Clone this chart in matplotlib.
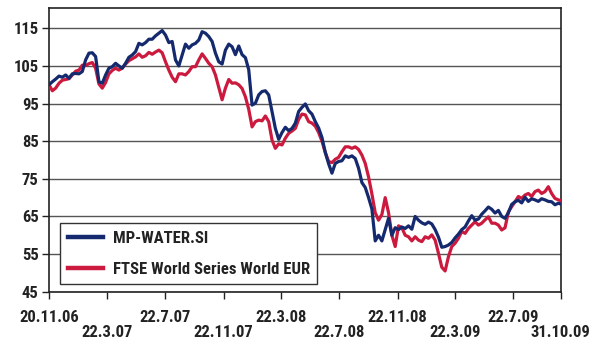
import matplotlib
matplotlib.use("Agg")
import matplotlib.pyplot as plt
from matplotlib import font_manager as fm
import pandas as pd

# Weekly closes, rebased to 100 on 20.11.2006
week_start = "2006-11-20"
n_weeks = 154
last_day = "2009-10-31"

mp_water = [
    100.0, 100.8, 101.5, 102.3, 102.0, 102.6, 101.7, 102.9, 103.0, 102.9,
    103.5, 106.6, 108.4, 108.5, 107.5, 100.8, 100.4, 102.6, 104.4, 104.8,
    105.7, 105.0, 104.4, 105.7, 107.3, 107.9, 108.8, 111.0, 110.6, 111.2,
    112.1, 112.1, 113.0, 113.7, 114.4, 113.2, 111.2, 111.5, 106.6, 105.0,
    107.9, 110.8, 109.7, 110.6, 111.0, 111.9, 114.1, 113.7, 112.8, 111.5,
    108.4, 106.1, 105.5, 109.2, 110.8, 110.1, 108.0, 110.3, 108.0, 107.2,
    104.0, 94.6, 95.1, 97.3, 98.2, 98.4, 97.3, 92.9, 88.4, 85.5,
    87.3, 88.7, 87.8, 88.4, 89.8, 92.9, 94.0, 94.9, 93.1, 92.2,
    90.2, 88.5, 86.0, 82.0, 79.0, 76.5, 79.1, 79.6, 79.8, 81.1,
    80.7, 81.1, 80.4, 77.8, 74.0, 72.7, 70.0, 67.0, 58.5, 60.0,
    58.5, 61.5, 64.5, 60.0, 62.0, 61.5, 62.2, 61.8, 62.5, 61.6,
    65.0, 64.0, 63.3, 62.9, 63.5, 63.0, 61.5, 59.5, 56.8, 57.0,
    57.4, 58.1, 59.3, 60.3, 61.5, 62.2, 63.8, 65.2, 64.0, 64.3,
    65.6, 66.5, 67.5, 66.9, 65.9, 66.6, 65.0, 64.5, 66.0, 68.2,
    68.9, 69.3, 68.6, 70.1, 69.0, 69.7, 69.4, 69.0, 69.7, 69.4,
    69.0, 68.9, 68.1, 68.5, 68.3,
]

ftse_world = [
    100.0, 98.4, 99.1, 100.4, 101.2, 101.4, 101.6, 102.6, 103.6, 103.9,
    105.2, 105.1, 105.6, 105.9, 104.4, 100.2, 99.1, 100.6, 102.9, 103.8,
    104.4, 103.9, 104.4, 105.5, 106.4, 106.9, 107.4, 108.2, 107.3, 107.7,
    108.6, 108.1, 108.7, 109.2, 108.5, 106.1, 103.9, 102.0, 100.8, 102.9,
    102.9, 102.6, 103.5, 104.8, 104.8, 106.6, 108.2, 107.0, 105.7, 104.8,
    102.6, 99.3, 96.0, 99.1, 101.4, 100.4, 100.5, 100.0, 99.0, 96.8,
    93.5, 88.8, 90.2, 90.6, 90.4, 91.7, 90.2, 85.3, 83.1, 84.3,
    84.0, 85.8, 87.1, 87.7, 88.4, 90.8, 92.2, 92.0, 90.2, 89.8,
    89.0, 87.3, 85.0, 82.0, 79.6, 79.3, 80.2, 80.7, 82.2, 83.5,
    83.5, 83.1, 83.5, 82.8, 81.3, 79.1, 75.5, 71.0, 66.0, 64.0,
    65.5, 70.0, 66.0, 60.0, 57.0, 62.5, 62.0, 60.0, 59.6, 58.5,
    59.6, 58.7, 58.3, 59.6, 59.2, 60.1, 58.7, 55.2, 51.5, 50.5,
    54.3, 57.0, 57.9, 59.2, 61.0, 60.5, 61.8, 62.7, 63.6, 62.7,
    63.2, 64.1, 64.9, 63.2, 63.2, 62.7, 61.4, 62.0, 66.2, 67.6,
    68.9, 70.3, 69.8, 70.7, 71.1, 70.3, 71.6, 72.0, 71.1, 71.6,
    72.9, 71.1, 69.8, 69.4, 69.2,
]

series_names = ["MP-WATER.SI", "FTSE World Series World EUR"]
tick_dates = ["2006-11-20", "2007-03-22", "2007-07-22", "2007-11-22", "2008-03-22",
              "2008-07-22", "2008-11-22", "2009-03-22", "2009-07-22", "2009-10-31"]
tick_labels = ["20.11.06", "22.3.07", "22.7.07", "22.11.07", "22.3.08",
               "22.7.08", "22.11.08", "22.3.09", "22.7.09", "31.10.09"]
y_ticks = [45, 55, 65, 75, 85, 95, 105, 115]

dates = pd.date_range(week_start, periods=n_weeks, freq="7D").append(
    pd.DatetimeIndex([last_day]))


def pick_condensed_font():
    """Return (family, stretch, weight) of a bold condensed sans face if one exists."""
    preferred = ["Liberation Sans Narrow", "Roboto Condensed", "Noto Sans",
                 "Noto Sans Condensed", "Open Sans", "Open Sans Condensed",
                 "DejaVu Sans", "DejaVu Sans Condensed", "Roboto", "Inter", "Lato"]
    entries = fm.fontManager.ttflist
    for fam in preferred:
        for stretch in ("condensed", "semi-condensed", "extra-condensed"):
            for weight in (700, 600, "bold", "semibold", "demibold"):
                for f in entries:
                    if (f.name == fam and f.stretch == stretch and f.style == "normal"
                            and f.weight == weight):
                        return f.name, stretch, weight
    for f in entries:
        if "narrow" in f.name.lower() or "condensed" in f.name.lower():
            return f.name, "normal", "bold"
    return None


choice = pick_condensed_font()
if choice is not None:
    fam, stretch, weight = choice
    plt.rcParams["font.family"] = [fam, "DejaVu Sans"]
    plt.rcParams["font.stretch"] = stretch
    plt.rcParams["font.weight"] = weight
    base_size = 12
else:
    plt.rcParams["font.family"] = ["Liberation Sans", "DejaVu Sans"]
    plt.rcParams["font.weight"] = "bold"
    base_size = 10.5

BLUE = "#152a6e"
RED = "#cc1a3f"
TEXT = "#222222"

fig = plt.figure(figsize=(5.94, 3.40), dpi=100)
ax = fig.add_axes([0.0825, 0.1421, 0.8614, 0.8344])

for y in y_ticks:
    ax.axhline(y, color="#555555", lw=1.0, zorder=1)

ax.plot(dates, ftse_world, color=RED, lw=2.3, zorder=3, label=series_names[1],
        solid_joinstyle="round")
ax.plot(dates, mp_water, color=BLUE, lw=2.3, zorder=4, label=series_names[0],
        solid_joinstyle="round")

ax.set_xlim(pd.Timestamp(week_start), pd.Timestamp(last_day))
ax.set_ylim(45, 120.4)

ax.set_yticks(y_ticks)
ax.set_yticklabels([str(v) for v in y_ticks])
ax.set_xticks(pd.to_datetime(tick_dates))
ax.set_xticklabels(tick_labels)

ax.tick_params(axis="both", direction="out", length=5, width=1.0,
               color="#222222", labelsize=base_size, labelcolor=TEXT)
ax.tick_params(axis="y", pad=2.5)
for i, t in enumerate(ax.xaxis.get_major_ticks()):
    t.set_pad(8.0 if i % 2 == 0 else 19.0)

for side in ["left", "bottom", "top", "right"]:
    ax.spines[side].set_color("#222222")
    ax.spines[side].set_linewidth(1.2)

handles, labels = ax.get_legend_handles_labels()
leg = ax.legend(handles[::-1], labels[::-1], loc="lower left",
                bbox_to_anchor=(0.0215, 0.026), borderaxespad=0,
                fancybox=False, framealpha=1, edgecolor="#333333",
                fontsize=base_size, handlelength=2.1, handletextpad=0.6,
                borderpad=0.45, labelspacing=0.95)
leg.get_frame().set_linewidth(1.0)
for line in leg.get_lines():
    line.set_linewidth(3.2)
for txt in leg.get_texts():
    txt.set_color(TEXT)

fig.savefig("out.png", dpi=100, facecolor="white")
